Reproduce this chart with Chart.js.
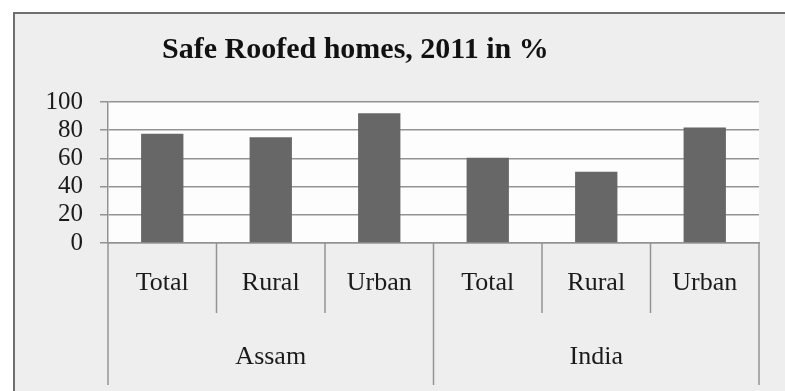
<!DOCTYPE html>
<html>
<head>
<meta charset="utf-8">
<script src="https://cdn.jsdelivr.net/npm/chart.js@4.4.1/dist/chart.umd.min.js"></script>
<style>
  html, body { margin: 0; padding: 0; background: #fff; }
</style>
</head>
<body>
<canvas id="roofChart" width="785" height="391"></canvas>
<script>
const chartTitle = 'Safe Roofed homes, 2011 in %';
const regions = ['Assam', 'India'];
const areaTypes = ['Total', 'Rural', 'Urban'];
const assamValues = [77.5, 75, 92];
const indiaValues = [60.5, 50.5, 82];
const yTicks = [0, 20, 40, 60, 80, 100];

const labels = regions.flatMap(() => areaTypes);
const values = [...assamValues, ...indiaValues];
const serif = "'Liberation Serif', 'Times New Roman', serif";
const lineGray = '#939393';

// paper background, outer frame and white plot area
const backdrop = {
    id: 'backdrop',
    beforeDraw(chart) {
        const {ctx, chartArea: a, width, height} = chart;
        ctx.save();
        ctx.fillStyle = '#fff';
        ctx.fillRect(0, 0, width, height);
        ctx.fillStyle = '#eeeeee';
        ctx.fillRect(14, 13, width - 14, height - 13);
        ctx.fillStyle = '#fdfdfd';
        ctx.fillRect(a.left, a.top, a.right - a.left, a.bottom - a.top);
        ctx.strokeStyle = '#6e6e6e';
        ctx.lineWidth = 2;
        ctx.beginPath();
        ctx.moveTo(14, height);
        ctx.lineTo(14, 13);
        ctx.lineTo(width, 13);
        ctx.stroke();
        ctx.restore();
    }
};

// two level category axis: dividers plus region names, and the title
const groupAxis = {
    id: 'groupAxis',
    afterDraw(chart) {
        const {ctx} = chart;
        const x = chart.scales.x;
        const bottom = x.top;
        const n = labels.length;
        const edges = [];
        for (let i = 0; i <= n; i++) {
            if (i === 0) edges.push(x.left);
            else if (i === n) edges.push(x.right);
            else edges.push((x.getPixelForValue(i - 1) + x.getPixelForValue(i)) / 2);
        }
        ctx.save();
        ctx.strokeStyle = lineGray;
        ctx.lineWidth = 1.5;
        edges.forEach((ex, i) => {
            const isGroup = i % areaTypes.length === 0;
            ctx.beginPath();
            ctx.moveTo(ex, bottom);
            ctx.lineTo(ex, bottom + (isGroup ? 142 : 70));
            ctx.stroke();
        });

        ctx.fillStyle = '#1a1a1a';
        ctx.font = `26px ${serif}`;
        ctx.textAlign = 'center';
        ctx.textBaseline = 'middle';
        regions.forEach((name, g) => {
            const cx = (edges[g * areaTypes.length] + edges[(g + 1) * areaTypes.length]) / 2;
            ctx.fillText(name, cx, bottom + 114);
        });

        ctx.font = `bold 30px ${serif}`;
        ctx.textAlign = 'left';
        ctx.textBaseline = 'alphabetic';
        ctx.fillStyle = '#111';
        ctx.fillText(chartTitle, 162, 58);
        ctx.restore();
    }
};

new Chart(
    document.getElementById('roofChart'),
    {
        type: 'bar',
        data: {
            labels: labels,
            datasets: [{
                data: values,
                backgroundColor: '#676767',
                categoryPercentage: 1,
                barPercentage: 0.39
            }]
        },
        options: {
            responsive: false,
            animation: false,
            layout: {
                padding: {left: 0, top: 102, right: 26, bottom: 0}
            },
            plugins: {
                legend: {display: false},
                tooltip: {enabled: false}
            },
            scales: {
                x: {
                    afterFit(scale) { scale.height = 148; },
                    grid: {display: false},
                    border: {color: lineGray, width: 1.5},
                    ticks: {
                        padding: 17,
                        maxRotation: 0,
                        autoSkip: false,
                        color: '#1a1a1a',
                        font: {family: serif, size: 26}
                    }
                },
                y: {
                    min: 0,
                    max: 100,
                    afterFit(scale) { scale.width = 108; },
                    afterBuildTicks(scale) {
                        scale.ticks = yTicks.map(v => ({value: v}));
                    },
                    grid: {color: lineGray, lineWidth: 1.5, tickLength: 8},
                    border: {color: lineGray, width: 1.5},
                    ticks: {
                        autoSkip: false,
                        padding: 17,
                        color: '#1a1a1a',
                        font: {family: serif, size: 25}
                    }
                }
            }
        },
        plugins: [backdrop, groupAxis]
    }
)
</script>
</body>
</html>
